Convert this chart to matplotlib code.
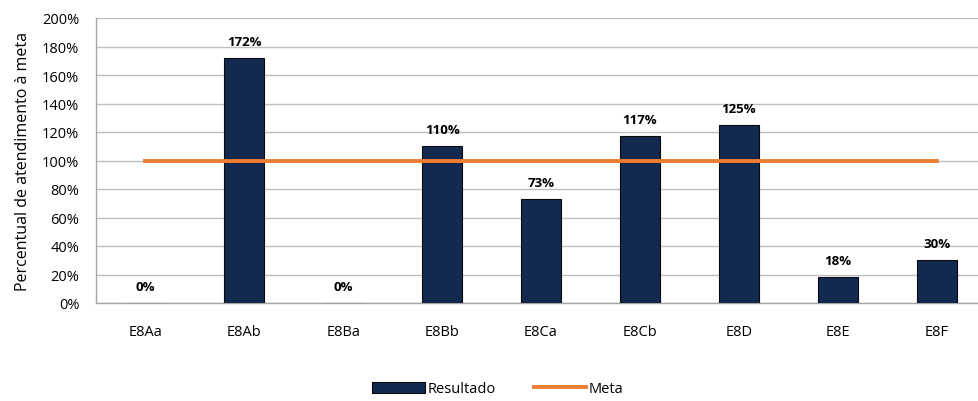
import matplotlib
matplotlib.use("Agg")
import matplotlib.pyplot as plt
from matplotlib.lines import Line2D
from matplotlib.patches import Patch

categories = ["E8Aa", "E8Ab", "E8Ba", "E8Bb", "E8Ca", "E8Cb", "E8D", "E8E", "E8F"]
resultado = [0, 172, 0, 110, 73, 117, 125, 18, 30]
meta = [100] * 9
yticks = list(range(0, 201, 20))

plt.rcParams['font.family'] = ['Open Sans', 'DejaVu Sans']

fig = plt.figure(figsize=(9.79, 4.02), dpi=100)
ax = fig.add_axes([96/979, 1-304/402, 890/979, 285/402])

x = list(range(len(categories)))
bar_color = "#14294F"
ax.bar(x, resultado, width=0.405, color=bar_color, edgecolor="#0a0a0a", linewidth=0.8, zorder=3)
ax.plot(x, meta, color="#ED7D31", linewidth=2.8, zorder=4)

for xi, v in zip(x, resultado):
    ax.text(xi, v + 7, f"{v}%", ha="center", va="bottom", fontsize=9.5, fontweight="bold", color="#000000", zorder=5)

ax.set_xlim(-0.5, len(categories) - 0.5)
ax.set_ylim(0, 200)
ax.set_yticks(yticks)
ax.set_yticklabels([f"{t}%" for t in yticks], fontsize=10.5)
ax.set_xticks(x)
ax.set_xticklabels(categories, fontsize=10.5)
ax.tick_params(axis="both", length=0, colors="#000000")
ax.tick_params(axis="x", pad=15)
ax.tick_params(axis="y", pad=12)
ax.grid(axis="y", color="#BFBFBF", linewidth=1, zorder=0)
ax.set_axisbelow(True)
for s in ["top", "right"]:
    ax.spines[s].set_visible(False)
for s in ["left", "bottom"]:
    ax.spines[s].set_color("#A6A6A6")
    ax.spines[s].set_linewidth(1)
ax.set_ylabel("Percentual de atendimento à meta", fontsize=11.5, labelpad=8)

handles = [Patch(facecolor=bar_color, edgecolor="#0a0a0a", linewidth=0.8),
           Line2D([0], [0], color="#ED7D31", linewidth=2.8)]
fig.legend(handles, ["Resultado", "Meta"], loc="center", bbox_to_anchor=(498/979, 1-390/402),
           ncol=2, frameon=False, fontsize=10.5, handlelength=3.6, handletextpad=0.2,
           columnspacing=2.6, handleheight=0.7)

fig.savefig("out.png", dpi=100)
